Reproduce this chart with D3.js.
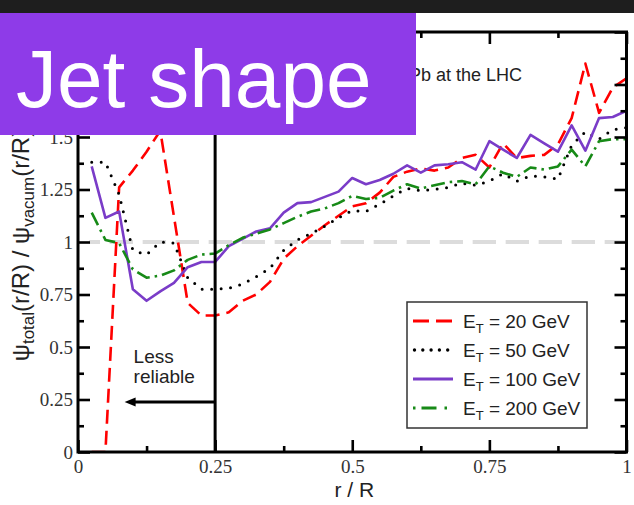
<!DOCTYPE html>
<html>
<head>
<meta charset="utf-8">
<script src="https://cdn.jsdelivr.net/npm/d3@7"></script>
<style>
  html, body { margin: 0; padding: 0; background: #fff; overflow: hidden; }
  svg { display: block; }
</style>
</head>
<body>
<svg id="chart" width="634" height="505"></svg>
<script>
// Radial positions r/R of the jet-shape bins
const rOverR = [0.025, 0.05, 0.075, 0.1, 0.125, 0.15, 0.175, 0.2, 0.225, 0.25,
                0.275, 0.3, 0.325, 0.35, 0.375, 0.4, 0.425, 0.45, 0.475, 0.5,
                0.525, 0.55, 0.575, 0.6, 0.625, 0.65, 0.675, 0.7, 0.725, 0.75,
                0.775, 0.8, 0.825, 0.85, 0.875, 0.9, 0.925, 0.95, 0.975, 1.0];

// Ratio psi_total / psi_vacuum for each jet energy
const ratioEt20 = [0, 0, 1.26, 1.34, 1.43, 1.53, 1.12, 0.71, 0.65, 0.65,
                   0.665, 0.72, 0.75, 0.81, 0.92, 0.98, 1.03, 1.08, 1.125, 1.17,
                   1.185, 1.235, 1.31, 1.335, 1.35, 1.34, 1.355, 1.40, 1.415, 1.355,
                   1.47, 1.40, 1.41, 1.415, 1.465, 1.59, 1.85, 1.615, 1.735, 1.78];
const ratioEt50 = [1.38, 1.38, 1.225, 0.96, 0.94, 1.0, 0.995, 0.83, 0.775, 0.775,
                   0.78, 0.80, 0.835, 0.875, 0.96, 1.01, 1.04, 1.075, 1.115, 1.15,
                   1.145, 1.18, 1.22, 1.255, 1.245, 1.25, 1.26, 1.28, 1.27, 1.29,
                   1.325, 1.29, 1.315, 1.31, 1.30, 1.46, 1.525, 1.49, 1.535, 1.545];
const ratioEt100 = [1.36, 1.115, 1.145, 0.775, 0.72, 0.765, 0.805, 0.88, 0.905, 0.905,
                    0.98, 1.015, 1.05, 1.065, 1.14, 1.185, 1.19, 1.215, 1.24, 1.305,
                    1.275, 1.295, 1.325, 1.365, 1.33, 1.365, 1.37, 1.38, 1.345, 1.48,
                    1.44, 1.40, 1.51, 1.47, 1.43, 1.555, 1.435, 1.59, 1.595, 1.625];
const ratioEt200 = [1.14, 1.01, 0.995, 0.87, 0.83, 0.84, 0.865, 0.915, 0.94, 0.945,
                    0.985, 1.02, 1.04, 1.06, 1.09, 1.12, 1.145, 1.16, 1.185, 1.22,
                    1.205, 1.21, 1.245, 1.275, 1.255, 1.27, 1.285, 1.29, 1.275, 1.36,
                    1.33, 1.31, 1.355, 1.345, 1.36, 1.44, 1.36, 1.48, 1.49, 1.49];

const seriesNames = ["20", "50", "100", "200"];
const xTicksMajor = [0, 0.25, 0.5, 0.75, 1];
const xTickLabels = ["0", "0.25", "0.5", "0.75", "1"];
const xTicksMinor = [0.125, 0.375, 0.625, 0.875];
const yTicksMajor = [0, 0.25, 0.5, 0.75, 1, 1.25, 1.5, 1.75, 2];
const yTickLabels = ["0", "0.25", "0.5", "0.75", "1", "1.25", "1.5", "", ""];
const yTicksMinor = [0.125, 0.375, 0.625, 0.875, 1.125, 1.375, 1.625, 1.875];

const reliableCut = 0.25;      // below this r/R the result is less reliable
const arrowLevel = 0.238;      // height of the "less reliable" arrow
const arrowTip = 0.085;

const SANS = "'Liberation Sans', Arial, sans-serif";
const SERIF = "'Liberation Serif', 'Times New Roman', serif";

const svg = d3.select("#chart");
const W = 634, H = 505;
const plot = { left: 78, right: 626.5, top: 32, bottom: 452 };

const x = d3.scaleLinear().domain([0, 1]).range([plot.left, plot.right]);
const y = d3.scaleLinear().domain([0, 2]).range([plot.bottom, plot.top]);

svg.append("rect").attr("width", W).attr("height", H).attr("fill", "#fff");

const styles = [
  { values: ratioEt20,  color: "#ff0000", width: 2.6, dash: "14,7",        cap: "butt" },
  { values: ratioEt50,  color: "#000000", width: 3.0, dash: "0,9.5",       cap: "round" },
  { values: ratioEt100, color: "#7a3cc8", width: 2.6, dash: null,          cap: "butt" },
  { values: ratioEt200, color: "#178a17", width: 2.6, dash: "14,5,2.5,5",  cap: "butt" }
];

svg.append("clipPath").attr("id", "plotClip")
  .append("rect")
  .attr("x", plot.left).attr("y", plot.top)
  .attr("width", plot.right - plot.left).attr("height", plot.bottom - plot.top);

// reference line at ratio 1
svg.append("line")
  .attr("x1", x(0.02)).attr("x2", x(1))
  .attr("y1", y(1)).attr("y2", y(1))
  .attr("stroke", "#dcdcdc").attr("stroke-width", 4)
  .attr("stroke-dasharray", "23.3,9.7").attr("stroke-dashoffset", 12.3);

// series
const line = d3.line().x((d, i) => x(rOverR[i])).y(d => y(d));
const seriesG = svg.append("g").attr("clip-path", "url(#plotClip)");
styles.forEach(s => {
  seriesG.append("path")
    .datum(s.values)
    .attr("d", line)
    .attr("fill", "none")
    .attr("stroke", s.color)
    .attr("stroke-width", s.width)
    .attr("stroke-linecap", s.cap)
    .attr("stroke-linejoin", "round")
    .attr("stroke-dasharray", s.dash);
});

// cut at r/R = 0.25
svg.append("line")
  .attr("x1", x(reliableCut)).attr("x2", x(reliableCut))
  .attr("y1", y(2)).attr("y2", y(0))
  .attr("stroke", "#000").attr("stroke-width", 3);

// arrow to the left
svg.append("line")
  .attr("x1", x(reliableCut)).attr("x2", x(arrowTip) + 8)
  .attr("y1", y(arrowLevel)).attr("y2", y(arrowLevel))
  .attr("stroke", "#000").attr("stroke-width", 3);
const ax = x(arrowTip), ay = y(arrowLevel);
svg.append("path")
  .attr("d", `M${ax},${ay} L${ax + 11},${ay - 4.5} L${ax + 11},${ay + 4.5} Z`)
  .attr("fill", "#000");

svg.append("text").attr("x", x(arrowTip) + 9).attr("y", 362.5)
  .attr("font-family", SANS).attr("font-size", 19)
  .attr("fill", "#222").text("Less");
svg.append("text").attr("x", x(arrowTip) + 9).attr("y", 383)
  .attr("font-family", SANS).attr("font-size", 19)
  .attr("fill", "#222").text("reliable");

// axes
function styleAxis(g) {
  g.attr("font-family", SERIF).attr("font-size", 19);
  g.select(".domain").remove();
  g.selectAll(".tick line").attr("stroke", "#000").attr("stroke-width", 2.6);
  g.selectAll(".tick text")
    .style("font-family", SERIF)
    .attr("font-size", 19).attr("fill", "#333");
}

svg.append("g").attr("transform", `translate(0,${plot.bottom})`)
  .call(d3.axisBottom(x).tickValues(xTicksMajor).tickSize(-12).tickPadding(8)
        .tickFormat((d, i) => xTickLabels[i]))
  .call(styleAxis);
svg.append("g").attr("transform", `translate(0,${plot.bottom})`)
  .call(d3.axisBottom(x).tickValues(xTicksMinor).tickSize(-6).tickFormat(""))
  .call(styleAxis);
svg.append("g").attr("transform", `translate(0,${plot.top})`)
  .call(d3.axisTop(x).tickValues(xTicksMajor).tickSize(-12).tickFormat(""))
  .call(styleAxis);
svg.append("g").attr("transform", `translate(0,${plot.top})`)
  .call(d3.axisTop(x).tickValues(xTicksMinor).tickSize(-6).tickFormat(""))
  .call(styleAxis);

svg.append("g").attr("transform", `translate(${plot.left},0)`)
  .call(d3.axisLeft(y).tickValues(yTicksMajor).tickSize(-12).tickPadding(5)
        .tickFormat((d, i) => yTickLabels[i]))
  .call(styleAxis);
svg.append("g").attr("transform", `translate(${plot.left},0)`)
  .call(d3.axisLeft(y).tickValues(yTicksMinor).tickSize(-6).tickFormat(""))
  .call(styleAxis);
svg.append("g").attr("transform", `translate(${plot.right},0)`)
  .call(d3.axisRight(y).tickValues(yTicksMajor).tickSize(-12).tickFormat(""))
  .call(styleAxis);
svg.append("g").attr("transform", `translate(${plot.right},0)`)
  .call(d3.axisRight(y).tickValues(yTicksMinor).tickSize(-6).tickFormat(""))
  .call(styleAxis);

// frame
svg.append("rect")
  .attr("x", plot.left).attr("y", plot.top)
  .attr("width", plot.right - plot.left).attr("height", plot.bottom - plot.top)
  .attr("fill", "none").attr("stroke", "#000").attr("stroke-width", 3);

// axis titles
svg.append("text")
  .attr("x", (plot.left + plot.right) / 2 + 2).attr("y", 497)
  .attr("text-anchor", "middle")
  .attr("font-family", SANS).attr("font-size", 21)
  .attr("fill", "#222").text("r / R");

const yTitle = svg.append("text")
  .attr("transform", `translate(29,245) rotate(-90)`)
  .attr("text-anchor", "middle")
  .attr("font-family", SANS).attr("font-size", 24)
  .attr("fill", "#222");
yTitle.append("tspan").text("ψ");
yTitle.append("tspan").attr("font-size", 17).attr("dy", 5).text("total");
yTitle.append("tspan").attr("dy", -5).text("(r/R) / ψ");
yTitle.append("tspan").attr("font-size", 17).attr("dy", 5).text("vacum");
yTitle.append("tspan").attr("dy", -5).text("(r/R)");

// system label
svg.append("text")
  .attr("x", 522).attr("y", 80.5).attr("text-anchor", "end")
  .attr("font-family", SANS).attr("font-size", 18)
  .attr("fill", "#222").text("Pb+Pb at the LHC");

// legend
const legend = svg.append("g");
legend.append("rect")
  .attr("x", 407).attr("y", 302).attr("width", 180).attr("height", 126)
  .attr("fill", "#fff").attr("stroke", "#333").attr("stroke-width", 1.5);
const legendRows = [321, 350, 379, 408];
styles.forEach((s, i) => {
  const ly = legendRows[i];
  legend.append("line")
    .attr("x1", 413).attr("x2", 453).attr("y1", ly).attr("y2", ly)
    .attr("stroke", s.color).attr("stroke-width", s.width + 0.4)
    .attr("stroke-linecap", s.cap)
    .attr("stroke-dasharray", i === 0 ? "16,7" : i === 1 ? "0,8.3" : i === 3 ? "2.5,6,15,8" : null)
    .attr("stroke-dashoffset", i === 1 ? -1.5 : 0);
  const t = legend.append("text")
    .attr("x", 463).attr("y", ly + 7)
    .attr("font-family", SANS).attr("font-size", 19)
    .attr("fill", "#222");
  t.append("tspan").text("E");
  t.append("tspan").attr("font-size", 13).attr("dy", 5).text("T");
  t.append("tspan").attr("dy", -5).text(` = ${seriesNames[i]} GeV`);
});

// header bar and title panel
svg.append("rect").attr("x", 0).attr("y", 0).attr("width", W).attr("height", 13)
  .attr("fill", "#1e1e1e");
svg.append("rect").attr("x", 0).attr("y", 13).attr("width", 416).attr("height", 122)
  .attr("fill", "#8e3be8");
svg.append("text")
  .attr("x", 16).attr("y", 107)
  .attr("font-family", SANS).attr("font-size", 82)
  .attr("fill", "#fff").text("Jet shape");
</script>
</body>
</html>
